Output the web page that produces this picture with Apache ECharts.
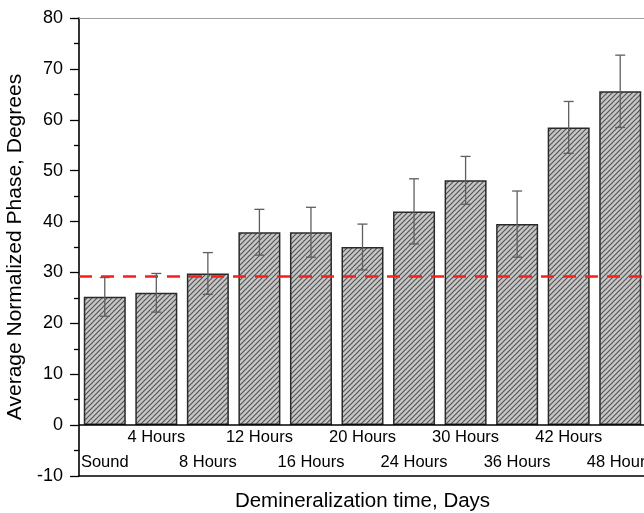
<!DOCTYPE html>
<html lang="en">
<head>
    <meta charset="UTF-8">
    <title>Average Normalized Phase</title>
    <script src="https://cdn.jsdelivr.net/npm/echarts@6/dist/echarts.min.js"></script>
    <style>
        html, body { margin: 0; padding: 0; background: #fff; }
        #container { width: 644px; height: 513px; }
    </style>
</head>
<body>
<div id="container"></div>
<script>
    // data
    var categories = ['Sound', '4 Hours', '8 Hours', '12 Hours', '16 Hours', '20 Hours',
        '24 Hours', '30 Hours', '36 Hours', '42 Hours', '48 Hours'];
    var phaseMean = [25.2, 26.0, 29.8, 37.9, 37.9, 35.0, 42.0, 48.1, 39.5, 58.5, 65.6];
    var phaseErr = [3.8, 3.8, 4.1, 4.5, 4.9, 4.5, 6.4, 4.7, 6.5, 5.1, 7.1];
    var soundRef = 29.3;   // dashed reference line
    var yTicks = { min: -10, max: 80, interval: 10 };

    var font = 'Liberation Sans, Arial, sans-serif';

    // diagonal hatch for the bars
    function hatch() {
        var c = document.createElement('canvas');
        c.width = 5; c.height = 5;
        var ctx = c.getContext('2d');
        ctx.fillStyle = '#c6c6c6';
        ctx.fillRect(0, 0, 5, 5);
        ctx.strokeStyle = '#555';
        ctx.lineWidth = 1.2;
        ctx.beginPath();
        ctx.moveTo(-1, 6); ctx.lineTo(6, -1);
        ctx.moveTo(-1, 1); ctx.lineTo(1, -1);
        ctx.moveTo(4, 6); ctx.lineTo(6, 4);
        ctx.stroke();
        return c;
    }

    var errData = phaseMean.map(function (m, i) {
        return [i, m - phaseErr[i], m + phaseErr[i]];
    });

    var myChart = echarts.init(document.getElementById('container'));

    var option = {
        animation: false,
        grid: { left: 79, right: -2, top: 18, bottom: 37, outerBoundsMode: 'none', containLabel: false },
        xAxis: [{
            type: 'category',
            data: categories,
            position: 'bottom',
            axisLine: { onZero: false, lineStyle: { color: '#000', width: 1.5 } },
            axisTick: { show: false },
            axisLabel: {
                interval: 0,
                margin: -51.5,
                color: '#000',
                fontFamily: font,
                fontSize: 16.5,
                lineHeight: 25,
                formatter: function (v, i) {
                    return i % 2 === 0 ? '\n' + v : v;
                }
            },
            name: 'Demineralization time, Days',
            nameLocation: 'middle',
            nameGap: 14.5,
            nameTextStyle: { color: '#000', fontFamily: font, fontSize: 20.5 }
        }, {
            type: 'category',
            data: categories,
            position: 'top',
            axisLine: { onZero: false, lineStyle: { color: '#a0a0a0', width: 1.2 } },
            axisTick: { show: false },
            axisLabel: { show: false }
        }],
        yAxis: {
            type: 'value',
            min: yTicks.min,
            max: yTicks.max,
            interval: yTicks.interval,
            axisLine: { show: true, lineStyle: { color: '#000', width: 1.6 } },
            axisTick: { show: true, length: 9, lineStyle: { color: '#000', width: 1.3 } },
            minorTick: { show: true, splitNumber: 2, length: 5, lineStyle: { color: '#000', width: 1.3 } },
            splitLine: { show: false },
            axisLabel: { color: '#000', fontFamily: font, fontSize: 18, margin: 16 },
            name: 'Average Normalized Phase, Degrees',
            nameLocation: 'middle',
            nameGap: 42,
            nameTextStyle: { color: '#000', fontFamily: font, fontSize: 21 }
        },
        series: [{
            type: 'bar',
            data: phaseMean,
            barWidth: 42,
            itemStyle: {
                color: { image: hatch(), repeat: 'repeat' },
                borderColor: '#2a2a2a',
                borderWidth: 1.5
            },
            markLine: {
                silent: true,
                symbol: 'none',
                label: { show: false },
                data: [
                    { yAxis: 0, lineStyle: { color: '#000', width: 1.5, type: 'solid' } },
                    { yAxis: soundRef, lineStyle: { color: '#ff1a1a', width: 2.5, type: [13, 9] } }
                ]
            }
        }, {
            type: 'custom',
            data: errData,
            z: 5,
            renderItem: function (params, api) {
                var x = api.value(0);
                var lo = api.coord([x, api.value(1)]);
                var hi = api.coord([x, api.value(2)]);
                var cap = 5;
                var style = { stroke: '#5e5e5e', lineWidth: 1.3 };
                return {
                    type: 'group',
                    children: [
                        { type: 'line', shape: { x1: hi[0], y1: hi[1], x2: lo[0], y2: lo[1] }, style: style },
                        { type: 'line', shape: { x1: hi[0] - cap, y1: hi[1], x2: hi[0] + cap, y2: hi[1] }, style: style },
                        { type: 'line', shape: { x1: lo[0] - cap, y1: lo[1], x2: lo[0] + cap, y2: lo[1] }, style: style }
                    ]
                };
            }
        }]
    };

    myChart.setOption(option);
</script>
</body>
</html>
